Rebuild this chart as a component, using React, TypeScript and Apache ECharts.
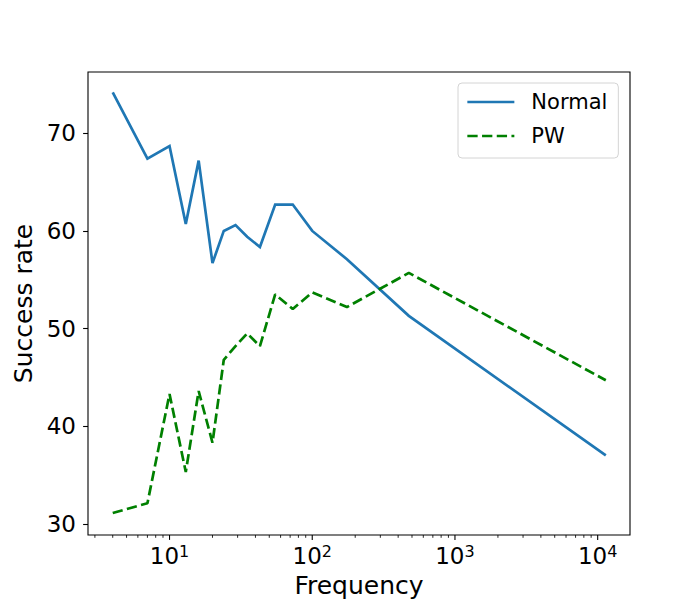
import React, { useEffect, useRef } from "react";
import * as echarts from "echarts";

const frequency = [4, 7, 10, 13, 16, 20, 24, 29, 35, 43, 55, 73, 100, 175, 475, 11400];
const normalRate = [74.2, 67.4, 68.7, 60.7, 67.2, 56.7, 60.0, 60.6, 59.4, 58.35, 62.7, 62.7, 60.0, 57.1, 51.3, 37.0];
const pwRate = [31.1, 32.1, 43.3, 35.3, 43.6, 38.3, 46.8, 48.2, 49.5, 48.2, 53.5, 52.0, 53.7, 52.2, 55.7, 44.7];

const yTicks = [30, 40, 50, 60, 70];
const xMajorTicks = [10, 100, 1000, 10000];
const xMinorTicks = [
  3, 4, 5, 6, 7, 8, 9,
  20, 30, 40, 50, 60, 70, 80, 90,
  200, 300, 400, 500, 600, 700, 800, 900,
  2000, 3000, 4000, 5000, 6000, 7000, 8000, 9000,
];

const X_MIN = 2.684;
const X_MAX = 16845;
const Y_MIN = 28.85;
const Y_MAX = 76.28;

const FONT = "DejaVu Sans";

export default function App() {
  const ref = useRef<HTMLDivElement>(null);

  useEffect(() => {
    document.body.style.margin = "0";
    if (!ref.current) return;
    const chart = echarts.init(ref.current, null, { renderer: "svg" });

    const tickData = [
      ...xMajorTicks.map((v) => [v, Y_MIN, 1]),
      ...xMinorTicks.map((v) => [v, Y_MIN, 0]),
    ];

    const option: any = {
      animation: false,
      backgroundColor: "#ffffff",
      textStyle: { fontFamily: FONT },
      grid: {
        left: 88,
        right: 70,
        top: 72,
        bottom: 65,
        outerBoundsMode: "none",
        containLabel: false,
        show: true,
        borderColor: "#000000",
        borderWidth: 1.1,
        backgroundColor: "transparent",
      },
      legend: {
        data: ["Normal", "PW"],
        orient: "vertical",
        left: 458,
        top: 83,
        padding: [7, 11, 10, 8],
        borderColor: "#d4d4d4",
        borderWidth: 1,
        borderRadius: 4,
        backgroundColor: "rgba(255,255,255,0.8)",
        itemWidth: 47,
        itemHeight: 14,
        itemGap: 10,
        itemStyle: { opacity: 0, borderWidth: 0 },
        lineStyle: { width: 2.7 },
        textStyle: {
          fontFamily: FONT,
          fontSize: 21,
          lineHeight: 24,
          color: "#000",
          padding: [0, 0, 0, 12],
        },
      },
      xAxis: {
        type: "log",
        logBase: 10,
        min: X_MIN,
        max: X_MAX,
        splitNumber: 4,
        name: "Frequency",
        nameLocation: "middle",
        nameGap: 38,
        nameTextStyle: { fontFamily: FONT, fontSize: 25, color: "#000" },
        axisLine: { show: false },
        axisTick: { show: false },
        splitLine: { show: false },
        minorTick: { show: false },
        axisLabel: {
          margin: 8,
          showMinLabel: false,
          showMaxLabel: false,
          color: "#000",
          formatter: (v: number) => {
            const l = Math.log10(v);
            const r = Math.round(l);
            if (Math.abs(l - r) < 1e-6 && xMajorTicks.indexOf(Math.pow(10, r)) >= 0) {
              return `{b|10}{s|${r}}`;
            }
            return "";
          },
          rich: {
            b: { fontFamily: FONT, fontSize: 23, color: "#000", lineHeight: 25 },
            s: { fontFamily: FONT, fontSize: 16, color: "#000", lineHeight: 12, verticalAlign: "top" },
          },
        },
      },
      yAxis: {
        type: "value",
        min: Y_MIN,
        max: Y_MAX,
        name: "Success rate",
        nameLocation: "middle",
        nameGap: 47,
        nameTextStyle: { fontFamily: FONT, fontSize: 25, color: "#000" },
        axisLine: { show: false },
        splitLine: { show: false },
        axisTick: {
          show: true,
          customValues: yTicks,
          length: 4.9,
          lineStyle: { color: "#000", width: 1.1 },
        },
        axisLabel: {
          customValues: yTicks,
          margin: 12,
          fontFamily: FONT,
          fontSize: 23,
          color: "#000",
        },
      },
      series: [
        {
          name: "Normal",
          type: "line",
          data: frequency.map((f, i) => [f, normalRate[i]]),
          symbol: "none",
          showSymbol: false,
          lineStyle: { color: "#1f77b4", width: 2.7, cap: "butt", join: "miter" },
          itemStyle: { color: "#1f77b4" },
          z: 3,
        },
        {
          name: "PW",
          type: "line",
          data: frequency.map((f, i) => [f, pwRate[i]]),
          symbol: "none",
          showSymbol: false,
          lineStyle: { color: "#008000", width: 2.7, type: [10.3, 4.4], cap: "butt" },
          itemStyle: { color: "#008000" },
          z: 4,
        },
        {
          name: "ticks",
          type: "custom",
          clip: false,
          silent: true,
          data: tickData,
          renderItem: (params: any, api: any) => {
            const p = api.coord([api.value(0), api.value(1)]);
            const major = api.value(2) === 1;
            const len = major ? 4.9 : 2.8;
            return {
              type: "line",
              shape: { x1: p[0], y1: p[1], x2: p[0], y2: p[1] + len },
              style: { stroke: "#000", lineWidth: major ? 1.1 : 0.85 },
            };
          },
        },
      ],
    };

    chart.setOption(option);
    return () => chart.dispose();
  }, []);

  return <div ref={ref} style={{ width: 700, height: 600 }} />;
}
